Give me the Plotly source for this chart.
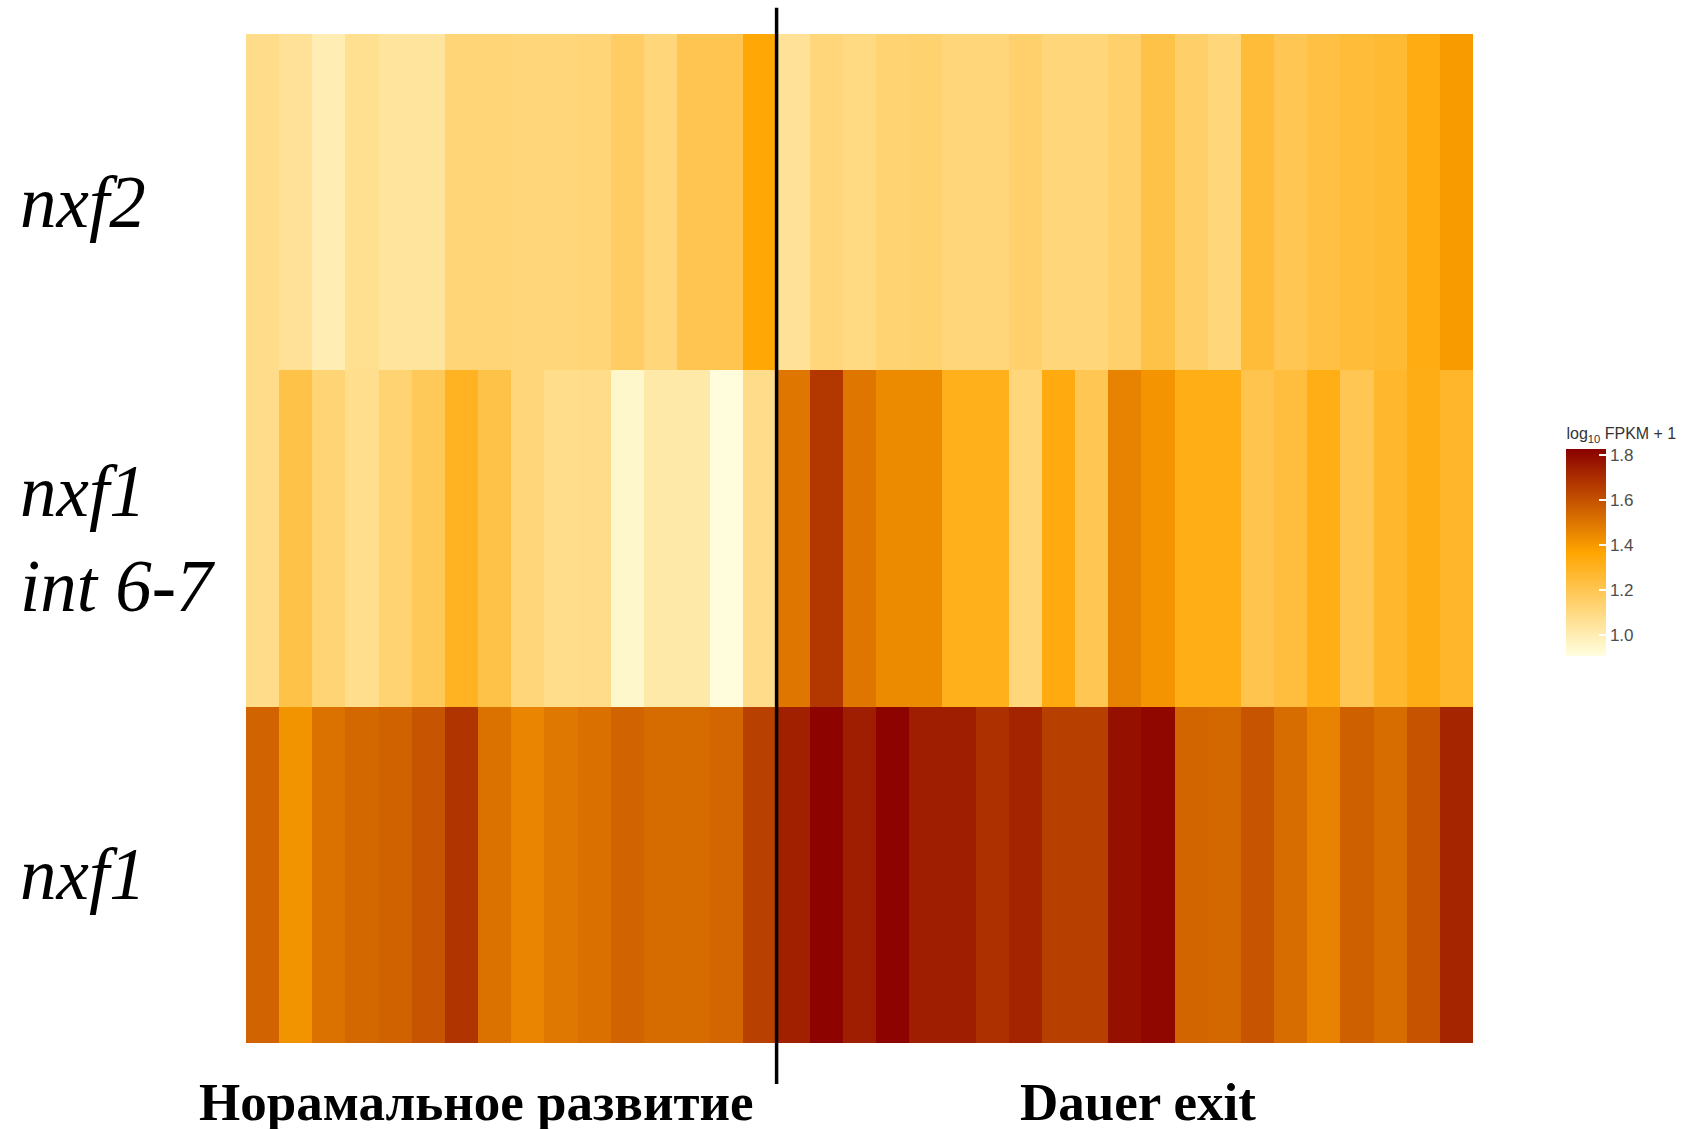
import plotly.graph_objects as go

# Row (gene) labels, top to bottom
row_labels = ["nxf2", "nxf1<br>int 6-7", "nxf1"]
# Sample groups and how many samples each has
group_labels = ["Норамальное развитие", "Dauer exit"]
group_sizes = [16, 21]

# log10 FPKM + 1 values per sample (16 normal development + 21 dauer exit)
nxf2_values = [1.089, 1.058, 1.002, 1.074, 1.048, 1.048, 1.125, 1.125, 1.120, 1.120,
               1.125, 1.166, 1.120, 1.206, 1.206, 1.360,
               1.058, 1.120, 1.100, 1.135, 1.140, 1.120, 1.120, 1.150, 1.120, 1.120,
               1.150, 1.222, 1.155, 1.120, 1.252, 1.200, 1.232, 1.252, 1.263, 1.334, 1.398]
nxf1_int_values = [1.089, 1.222, 1.130, 1.079, 1.135, 1.186, 1.300, 1.222, 1.120, 1.084,
                   1.089, 0.951, 1.022, 1.022, 0.920, 1.089,
                   1.501, 1.674, 1.501, 1.445, 1.445, 1.314, 1.314, 1.120, 1.340, 1.200,
                   1.465, 1.417, 1.324, 1.324, 1.212, 1.242, 1.324, 1.200, 1.278, 1.329, 1.283]
nxf1_values = [1.551, 1.420, 1.512, 1.543, 1.557, 1.596, 1.685, 1.512, 1.459, 1.495,
               1.518, 1.551, 1.532, 1.532, 1.546, 1.652,
               1.741, 1.822, 1.749, 1.822, 1.749, 1.749, 1.696, 1.730, 1.654, 1.654,
               1.785, 1.810, 1.548, 1.540, 1.596, 1.529, 1.465, 1.563, 1.529, 1.599, 1.727]

colorbar_ticks = [1.0, 1.2, 1.4, 1.6, 1.8]
colorbar_title = "log<sub>10</sub> FPKM + 1"
z_min, z_max = 0.91, 1.83

n_samples = sum(group_sizes)
samples = list(range(n_samples))
z = [nxf2_values, nxf1_int_values, nxf1_values]

fig = go.Figure()
fig.add_trace(go.Heatmap(
    z=z,
    x=samples,
    y=list(range(len(row_labels))),
    zmin=z_min, zmax=z_max,
    colorscale=[[0, "#FFFFE0"], [0.5, "#FFA500"], [1, "#8B0000"]],
    xgap=0, ygap=0,
    colorbar=dict(
        title=dict(text=colorbar_title, side="top",
                   font=dict(family="Liberation Sans, Arial", size=16, color="#333333")),
        tickvals=colorbar_ticks,
        ticktext=[f"{t:.1f}" for t in colorbar_ticks],
        tickfont=dict(family="Liberation Sans, Arial", size=17, color="#4D4D4D"),
        ticks="inside", ticklen=7, tickcolor="white", tickwidth=1.5,
        thickness=40, lenmode="pixels", len=251,
        x=1.068, xanchor="left", y=0.623, yanchor="top",
        outlinewidth=0,
    ),
    hovertemplate="sample %{x}<br>%{z}<extra></extra>",
))

# Row labels on the far left
for i, lab in enumerate(row_labels):
    fig.add_annotation(
        x=-0.1858, xref="paper", y=i, yref="y",
        text=f"<i>{lab}</i>", showarrow=False,
        xanchor="left", yanchor="middle", align="left",
        font=dict(family="Liberation Serif, Times New Roman", size=73, color="black"),
    )

# Group labels below the heatmap
group_label_x = [6.46, 26.41]
for gx, lab in zip(group_label_x, group_labels):
    fig.add_annotation(
        x=gx, xref="x", y=-0.058, yref="paper",
        text=f"<b>{lab}</b>", showarrow=False,
        xanchor="center", yanchor="middle",
        font=dict(family="Liberation Serif, Times New Roman", size=53, color="black"),
    )

# Vertical separator between groups
split = group_sizes[0] - 0.5
fig.add_shape(type="line", x0=split, x1=split, xref="x",
              y0=-0.0406, y1=1.0259, yref="paper",
              line=dict(color="black", width=3.5))

fig.update_xaxes(visible=False, range=[-0.5, n_samples - 0.5])
fig.update_yaxes(visible=False, range=[len(row_labels) - 0.5, -0.5])

fig.update_layout(
    width=1704, height=1129,
    margin=dict(l=246, r=231, t=34, b=86),
    plot_bgcolor="white", paper_bgcolor="white",
    showlegend=False,
)

fig.write_html(
    "out.html",
    config={"displayModeBar": False},
    post_script="document.body.style.margin='0';document.documentElement.style.overflow='hidden';document.body.style.overflow='hidden';",
)
